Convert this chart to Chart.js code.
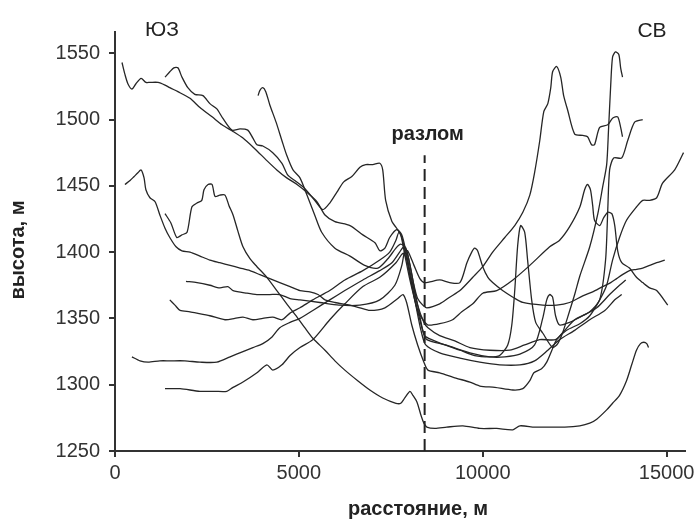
<!DOCTYPE html>
<html><head><meta charset="utf-8">
<script src="https://cdn.jsdelivr.net/npm/chart.js@4.4.1/dist/chart.umd.min.js"></script>
<style>html,body{margin:0;padding:0;background:#fff;}#wrap{width:700px;height:525px;}</style>
</head><body><div id="wrap"><canvas id="c" width="700" height="525"></canvas></div>
<script>
// Elevation profiles across the fault (distance, m / elevation, m)
const profile1Dist = [190,270,350,460,570,710,840,950,1170,1360,1490,1710,2040,2310,2640,2910,3210,3480,3800,4130,4400,4670,4950,5220,5490,5710,5980,6390,6740,7070,7200,7340,7470,7660,7800,7930,8070,8230,8400,8510,8830,9240,9650,10190,10730,11140,11550,11980,12230,12500,12910,13180,13340,13400,13450,13560,13780,13940,14130,14350];
const profile1Elev = [1543,1534,1527,1523,1527,1531,1528,1528,1528,1526,1524,1521,1516,1509,1502,1496,1491,1486,1478,1469,1462,1456,1451,1445,1438,1428,1423,1420,1413,1407,1401,1403,1411,1417,1413,1398,1379,1360,1347,1343,1337,1333,1328,1326,1326,1330,1334,1334,1341,1349,1355,1364,1394,1432,1462,1471,1471,1484,1498,1500];

const profile2Dist = [1360,1490,1600,1710,1820,1980,2170,2390,2580,2770,2930,3180,3400,3610,3750,3860,4020,4290,4540,4700,4890,5160,5430,5650,5840,6030,6220,6440,6660,6820,7010,7200,7280,7360,7530,7660,7770,7880,8020,8150,8290,8420,8610,8970,9380,9780,10190,10460,10680,10790,10870,10950,11030,11140,11220,11330,11440,11630,11900,12040,12170,12310,12500,12640,12910,13130,13260,13370,13420,13480,13530,13610,13700,13750,13800];
const profile2Elev = [1532,1536,1539,1539,1532,1524,1519,1518,1512,1508,1501,1492,1493,1492,1486,1481,1480,1475,1467,1458,1454,1448,1439,1432,1437,1445,1453,1457,1464,1466,1466,1467,1462,1439,1423,1418,1413,1398,1379,1364,1349,1337,1334,1330,1326,1322,1321,1322,1330,1345,1371,1405,1420,1415,1394,1364,1347,1339,1328,1331,1339,1351,1368,1382,1404,1429,1449,1466,1492,1526,1547,1551,1549,1539,1532];

const profile3Dist = [3890,3940,4020,4100,4210,4380,4540,4670,4840,5030,5220,5430,5620,5980,6390,6790,7150,7420,7640,7770,7910,8020,8130,8230,8370,8480,8830,9100,9380,9730,10000,10270,10600,10870,11090,11280,11410,11550,11660,11770,11850,11900,12010,12120,12200,12310,12500,12720,12850,12960,13040,13180,13400,13530,13670,13750,13800];
const profile3Elev = [1518,1522,1524,1521,1511,1498,1484,1473,1462,1456,1443,1428,1415,1403,1397,1390,1388,1395,1403,1406,1403,1390,1375,1365,1360,1358,1361,1366,1371,1381,1389,1400,1411,1420,1430,1443,1460,1484,1506,1512,1524,1536,1540,1532,1518,1507,1489,1488,1487,1481,1481,1494,1496,1501,1502,1494,1487];

const profile4Dist = [270,410,520,630,710,790,840,950,1090,1220,1360,1490,1660,1820,2040,2310,2580,2850,3130,3400,3670,3940,4210,4480,4760,5030,5300,5520,5710,5980,6390,6660,6930,7340,7690,7830,7930,8070,8230,8400,8510,8830,9270,9650,9920,10330,10820,11090,11280,11390,11600,11740,11880,12010,12280,12640,12910,13180,13370,13530,13720,13910,14180,14350,14540,14730,14890,15220,15460];
const profile4Elev = [1451,1454,1457,1460,1462,1456,1447,1441,1438,1428,1418,1411,1404,1401,1400,1397,1394,1392,1390,1388,1386,1383,1380,1377,1374,1371,1370,1368,1364,1362,1360,1358,1356,1358,1365,1368,1362,1345,1330,1317,1311,1309,1305,1302,1299,1298,1296,1297,1303,1309,1312,1317,1326,1334,1341,1346,1352,1364,1375,1394,1411,1424,1434,1439,1439,1441,1452,1462,1475];

const profile5Dist = [1360,1520,1680,1820,1960,2090,2230,2360,2420,2530,2640,2720,2850,2990,3100,3210,3340,3480,3670,3860,4130,4400,4670,4950,5160,5380,5710,5980,6250,6600,6930,7280,7640,7770,7880,8020,8100,8210,8320,8400,8480,8700,9020,9460,9920,10380,10820,11010,11410,11740,12230,12640,12910,13100,13370,13530,13720,13910,14050,14180,14290,14380,14460,14510];
const profile5Elev = [1429,1422,1411,1413,1415,1434,1437,1439,1447,1451,1451,1442,1443,1443,1435,1428,1416,1404,1395,1389,1381,1371,1361,1351,1343,1335,1326,1318,1311,1303,1296,1290,1286,1286,1290,1295,1292,1287,1277,1271,1268,1267,1268,1269,1267,1267,1266,1269,1268,1268,1268,1269,1271,1274,1281,1286,1292,1303,1315,1326,1331,1332,1331,1328];

const profile6Dist = [1930,2230,2580,2850,3070,3210,3590,3860,4210,4480,4760,5030,5570,6090,6660,7200,7610,7800,7880,7960,8130,8290,8420,8830,9100,9380,9570,9700,9780,9860,10000,10140,10270,10540,10820,11090,11630,12010,12360,12720,12990,13260,13480,13640,13800,13990,14180,14350,14540,14730,14950];
const profile6Elev = [1378,1377,1375,1373,1374,1371,1369,1368,1368,1368,1365,1364,1362,1360,1360,1364,1375,1390,1401,1401,1390,1380,1377,1379,1377,1377,1392,1400,1403,1401,1389,1381,1377,1371,1366,1362,1360,1360,1362,1367,1370,1374,1377,1380,1383,1386,1387,1388,1390,1392,1394];

const profile7Dist = [1490,1630,1770,2040,2230,2580,2990,3260,3480,3750,4020,4290,4540,4760,5030,5380,5840,6250,6740,7200,7470,7640,7720,7800,7910,8020,8130,8230,8370,8510,8830,9180,9430,9730,10000,10380,10820,11280,11820,12090,12360,12640,12770,12850,12930,12990,13040,13180,13290,13400,13510,13590,13670,13780,13990,14180,14350,14540,14730,15030];
const profile7Elev = [1364,1360,1356,1355,1354,1352,1349,1350,1351,1349,1350,1351,1349,1354,1358,1364,1371,1379,1386,1394,1400,1409,1415,1411,1398,1383,1368,1356,1349,1345,1346,1349,1355,1361,1369,1371,1379,1390,1404,1409,1419,1434,1447,1451,1447,1435,1424,1420,1426,1430,1429,1420,1401,1392,1388,1381,1377,1373,1371,1360];

const profile8Dist = [460,680,900,1220,1490,1900,2310,2770,3130,3480,3750,4020,4270,4480,4760,5030,5380,5840,6250,6740,7200,7530,7740,7850,7930,8040,8150,8260,8370,8480,8990,9650,10190,10600,11010,11410,11630,11740,11820,11900,11980,12090,12360,12720,13100,13450,13720,13890];
const profile8Elev = [1321,1318,1317,1318,1318,1318,1317,1317,1321,1325,1328,1331,1336,1343,1347,1350,1356,1364,1371,1379,1386,1392,1400,1404,1401,1388,1371,1356,1341,1334,1330,1324,1321,1321,1323,1330,1350,1364,1368,1366,1352,1345,1347,1352,1358,1368,1375,1379];

const profile9Dist = [1360,1770,2310,2720,3040,3210,3480,3860,4130,4290,4540,4760,5030,5380,5840,6250,6740,7200,7640,7830,7930,8040,8180,8320,8450,8830,9380,9920,10460,11010,11410,11770,12090,12500,12910,13320,13590,13780];
const profile9Elev = [1297,1297,1295,1295,1295,1298,1302,1309,1315,1311,1315,1322,1328,1334,1349,1361,1374,1381,1392,1399,1395,1379,1360,1341,1330,1324,1320,1317,1315,1315,1318,1326,1334,1341,1349,1356,1364,1368];

const faultDist = 8420;
const faultElev = [1250, 1473];

const xTicks = [0, 5000, 10000, 15000];
const yTicks = [1250, 1300, 1350, 1400, 1450, 1500, 1550];

const xTitle = 'расстояние, м';
const yTitle = 'высота, м';
const faultLabel = 'разлом';
const leftSideLabel = 'ЮЗ';
const rightSideLabel = 'СВ';

const profiles = [
  [profile1Dist, profile1Elev], [profile2Dist, profile2Elev], [profile3Dist, profile3Elev],
  [profile4Dist, profile4Elev], [profile5Dist, profile5Elev], [profile6Dist, profile6Elev],
  [profile7Dist, profile7Elev], [profile8Dist, profile8Elev], [profile9Dist, profile9Elev]
];

const LINE = '#262626';
const datasets = profiles.map(([xs, ys]) => ({
  data: xs.map((x, i) => ({x: x, y: ys[i]})),
  showLine: true, borderColor: LINE, borderWidth: 1.3, pointRadius: 0, tension: 0.25, fill: false
}));
datasets.push({
  data: faultElev.map(v => ({x: faultDist, y: v})),
  showLine: true, borderColor: '#222', borderWidth: 2, borderDash: [12, 6], pointRadius: 0, fill: false
});

const FONT = '"Liberation Sans", Arial, sans-serif';

const annot = {
  id: 'annot',
  afterDraw(chart) {
    const c = chart.ctx, xs = chart.scales.x;
    c.save();
    c.fillStyle = '#222';
    c.textAlign = 'center';
    c.textBaseline = 'alphabetic';
    c.font = '21px ' + FONT;
    c.fillText(leftSideLabel, 162, 36);
    c.fillText(rightSideLabel, 652, 37);
    c.font = 'bold 20px ' + FONT;
    c.fillText(faultLabel, xs.getPixelForValue(faultDist) + 3, 140);
    c.fillText(xTitle, 418, 515);
    c.translate(24, 250);
    c.rotate(-Math.PI / 2);
    c.fillText(yTitle, 0, 0);
    c.restore();
  }
};

new Chart(document.getElementById('c'), {
  type: 'scatter',
  data: {datasets},
  options: {
    responsive: false, animation: false, devicePixelRatio: 1,
    layout: {padding: {top: 32, right: 15, left: 0, bottom: 0}},
    plugins: {legend: {display: false}, tooltip: {enabled: false}},
    scales: {
      x: {
        type: 'linear', min: 0, max: 15500,
        afterBuildTicks: s => { s.ticks = xTicks.map(v => ({value: v})); },
        afterFit: s => { s.height = 74; },
        grid: {drawOnChartArea: false, drawTicks: true, tickLength: 6, color: '#333', lineWidth: 2},
        border: {color: '#333', width: 2},
        ticks: {color: '#333', font: {family: FONT, size: 20}, padding: 4, maxRotation: 0, autoSkip: false,
                callback: v => String(v)}
      },
      y: {
        type: 'linear', min: 1250, max: 1566,
        afterBuildTicks: s => { s.ticks = yTicks.map(v => ({value: v})); },
        afterFit: s => { s.width = 115; },
        grid: {drawOnChartArea: false, drawTicks: true, tickLength: 6, color: '#333', lineWidth: 2},
        border: {color: '#333', width: 2},
        ticks: {color: '#333', font: {family: FONT, size: 20}, padding: 9, autoSkip: false,
                callback: v => String(v)}
      }
    }
  },
  plugins: [annot]
});
</script></body></html>
